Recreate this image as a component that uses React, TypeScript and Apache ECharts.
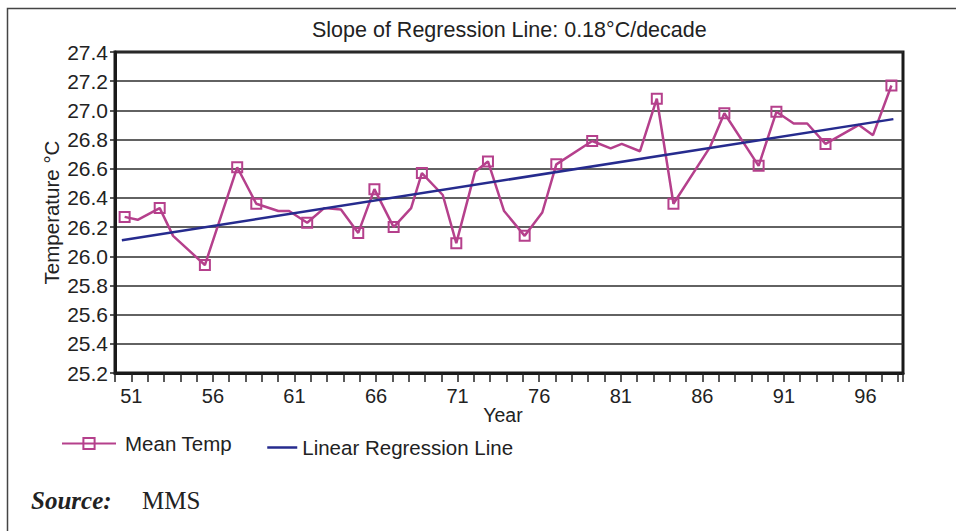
import React, { useEffect, useRef } from 'react';
import * as echarts from 'echarts';

// Mean temperature readings (year offsets in 19xx, °C)
const years = [50.59, 51.39, 52.74, 53.56, 55.51, 57.49, 58.66, 60.01, 60.67, 61.78, 62.82, 63.85, 64.91, 65.9, 67.08, 68.15, 68.81, 70.09, 70.92, 72.07, 72.86, 73.85, 75.11, 76.19, 77.05, 79.25, 80.38, 81.06, 82.18, 83.21, 84.23, 86.48, 87.35, 89.45, 90.54, 91.6, 92.43, 93.55, 95.6, 96.46, 97.59];
const temps = [26.27, 26.25, 26.33, 26.14, 25.94, 26.61, 26.36, 26.31, 26.31, 26.23, 26.33, 26.32, 26.16, 26.46, 26.2, 26.33, 26.57, 26.42, 26.09, 26.58, 26.65, 26.31, 26.14, 26.3, 26.63, 26.79, 26.74, 26.77, 26.72, 27.08, 26.36, 26.75, 26.98, 26.62, 26.99, 26.91, 26.91, 26.77, 26.9, 26.83, 27.17];
const marked = [1, 0, 1, 0, 1, 1, 1, 0, 0, 1, 0, 0, 1, 1, 1, 0, 1, 0, 1, 0, 1, 0, 1, 0, 1, 1, 0, 0, 0, 1, 1, 0, 1, 1, 1, 0, 0, 1, 0, 0, 1];

// Regression line end points
const regYears = [50.42, 97.71];
const regTemps = [26.11, 26.94];

// Axes
const yMin = 25.2;
const yMax = 27.4;
const yStep = 0.2;
const xMin = 50;
const xMax = 98.3;
const xFirstLabel = 51;
const xLabelEvery = 5;
const xLastLabel = 96;

const titleText = 'Slope of Regression Line: 0.18°C/decade';
const seriesNames = ['Mean Temp', 'Linear Regression Line'];
const xName = 'Year';
const yName = 'Temperature °C';
const sourceLabel = 'Source:';
const sourceValue = 'MMS';

const magenta = '#b5408c';
const navy = '#262b8e';
const ink = '#222222';
const clear = 'rgba(255,255,255,0)';
const sans = "'Liberation Sans', Arial, Helvetica, sans-serif";
const serif = "'Liberation Serif', 'Times New Roman', serif";

export default function App() {
  const ref = useRef<HTMLDivElement>(null);

  useEffect(() => {
    document.body.style.margin = '0';
    const chart = echarts.init(ref.current as HTMLDivElement, null, { renderer: 'svg' });

    const meanData = years.map((yr, i) =>
      marked[i]
        ? { value: [yr, temps[i]] }
        : { value: [yr, temps[i]], symbol: 'none' }
    );
    const regData = regYears.map((yr, i) => [yr, regTemps[i]]);

    const option: any = {
      animation: false,
      backgroundColor: '#ffffff',
      textStyle: { fontFamily: sans },
      title: {
        text: titleText,
        left: 312,
        top: 19,
        padding: 0,
        textStyle: { fontSize: 21.5, fontWeight: 'normal', color: ink, fontFamily: sans },
      },
      grid: {
        left: 115,
        right: 53,
        top: 52,
        bottom: 158,
        show: true,
        borderColor: '#1a1a1a',
        borderWidth: 3,
        backgroundColor: 'transparent',
      },
      legend: [
        {
          data: [seriesNames[0]],
          left: 61,
          top: 433,
          padding: 0,
          itemWidth: 54,
          itemHeight: 14,
          textStyle: { fontSize: 20.5, color: ink, fontFamily: sans, padding: [0, 0, 0, 4] },
        },
        {
          data: [seriesNames[1]],
          left: 266,
          top: 437,
          padding: 0,
          itemWidth: 30,
          itemHeight: 14,
          itemStyle: { color: clear, borderWidth: 0, opacity: 0 },
          lineStyle: { color: navy, width: 2.5, opacity: 1 },
          textStyle: { fontSize: 20.5, color: ink, fontFamily: sans },
        },
      ],
      xAxis: {
        type: 'value',
        min: xMin,
        max: xMax,
        interval: 1,
        name: xName,
        nameLocation: 'middle',
        nameGap: 32,
        nameMoveOverlap: false,
        nameTextStyle: { fontSize: 19.5, color: ink, fontFamily: sans, padding: [0, 12, 0, 0] },
        axisLine: { show: true, lineStyle: { color: '#1a1a1a', width: 3 } },
        axisTick: { show: true, length: 9, lineStyle: { color: '#222', width: 1.5 } },
        axisLabel: {
          fontSize: 20,
          color: ink,
          fontFamily: sans,
          margin: 13,
          formatter: (v: number) => {
            const r = Math.round(v);
            if (Math.abs(v - r) > 1e-6) return '';
            if (r < xFirstLabel || r > xLastLabel) return '';
            return (r - xFirstLabel) % xLabelEvery === 0 ? String(r) : '';
          },
        },
        splitLine: { show: false },
      },
      yAxis: {
        type: 'value',
        min: yMin,
        max: yMax,
        interval: yStep,
        name: yName,
        nameLocation: 'middle',
        nameGap: 53,
        nameMoveOverlap: false,
        nameTextStyle: { fontSize: 20.5, color: ink, fontFamily: sans },
        axisLine: { show: true, lineStyle: { color: '#1a1a1a', width: 3 } },
        axisTick: { show: true, length: 5, lineStyle: { color: '#222', width: 1.5 } },
        axisLabel: {
          fontSize: 21,
          color: ink,
          fontFamily: sans,
          margin: 7,
          formatter: (v: number) => v.toFixed(1),
        },
        splitLine: { show: true, lineStyle: { color: '#2e2e2e', width: 1.5 } },
      },
      series: [
        {
          name: seriesNames[0],
          type: 'line',
          data: meanData,
          symbol: 'rect',
          symbolSize: 10,
          showSymbol: true,
          showAllSymbol: true,
          lineStyle: { color: magenta, width: 2.5 },
          itemStyle: { color: clear, borderColor: magenta, borderWidth: 2 },
          emphasis: { disabled: true },
          z: 2,
        },
        {
          name: seriesNames[1],
          type: 'line',
          data: regData,
          symbol: 'none',
          lineStyle: { color: navy, width: 2.5 },
          itemStyle: { color: clear, borderWidth: 0 },
          emphasis: { disabled: true },
          z: 3,
        },
      ],
      graphic: [
        {
          type: 'polyline',
          silent: true,
          shape: { points: [[7.5, 531], [7.5, 8.5], [956, 8.5]] },
          style: { stroke: '#444444', lineWidth: 1.5, fill: 'none' },
        },
        {
          type: 'text',
          x: 31,
          y: 500,
          style: {
            text: sourceLabel,
            fontSize: 25,
            fontStyle: 'italic',
            fontWeight: 'bold',
            fontFamily: serif,
            fill: ink,
            verticalAlign: 'middle',
            align: 'left',
          },
        },
        {
          type: 'text',
          x: 142,
          y: 500,
          style: {
            text: sourceValue,
            fontSize: 25,
            fontFamily: serif,
            fill: ink,
            verticalAlign: 'middle',
            align: 'left',
          },
        },
      ],
    };

    chart.setOption(option);
    return () => chart.dispose();
  }, []);

  return <div ref={ref} style={{ width: 956, height: 531 }} />;
}
